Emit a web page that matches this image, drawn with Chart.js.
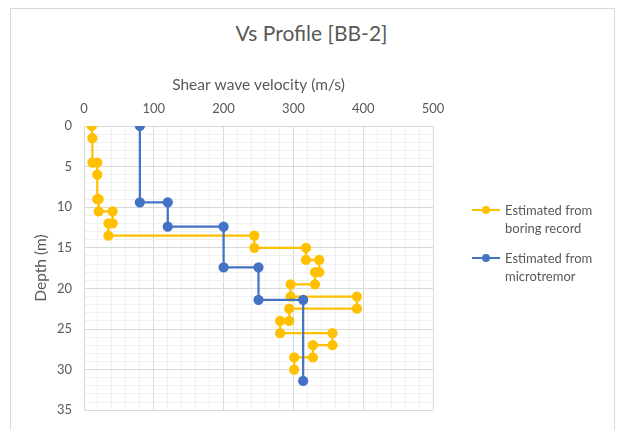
<!DOCTYPE html>
<html>
<head>
<meta charset="utf-8">
<script src="https://cdn.jsdelivr.net/npm/chart.js@4"></script>
<style>
  html, body { margin: 0; padding: 0; background: #fff; }
  body { width: 623px; height: 430px; position: relative; overflow: hidden; font-family: Lato, "Open Sans", sans-serif; color: #595959; }
  #frame { position: absolute; left: 10px; top: 8px; width: 603px; height: 440px; border: 1px solid #d9d9d9; }
  #title { position: absolute; left: 0; width: 623px; top: 20px; text-align: center; font-size: 21px; }
  #wrap { position: absolute; left: 0; top: 0; width: 623px; height: 430px; }
  .legend { position: absolute; left: 472px; font-size: 13px; line-height: 18px; }
  .legend .key { position: absolute; left: 0; top: 8px; width: 28px; height: 2px; }
  .legend .key i { position: absolute; left: 10px; top: -3px; width: 8px; height: 8px; border-radius: 50%; }
  .legend span { display: block; margin-left: 33px; white-space: nowrap; }
</style>
</head>
<body>
<div id="frame"></div>
<div id="title">Vs Profile [BB-2]</div>
<div id="wrap"><canvas id="chart" width="623" height="430"></canvas></div>
<div class="legend" style="top:201px">
  <div class="key" style="background:#ffc000"><i style="background:#ffc000"></i></div>
  <span>Estimated from</span><span>boring record</span>
</div>
<div class="legend" style="top:249px">
  <div class="key" style="background:#4472c4"><i style="background:#4472c4"></i></div>
  <span>Estimated from</span><span>microtremor</span>
</div>
<script>
// boring record profile (Vs in m/s, depth in m)
const boringVs = [11, 12, 12, 19, 19, 19, 21, 21, 41, 41, 35, 35, 244, 244, 318, 318, 337, 337,
                  331, 331, 296, 296, 391, 391, 294, 294, 281, 281, 356, 356, 328, 328, 301, 301];
const boringDepth = [0, 1.5, 4.5, 4.5, 6, 9, 9, 10.5, 10.5, 12, 12, 13.5, 13.5, 15, 15, 16.5, 16.5, 18,
                     18, 19.5, 19.5, 21, 21, 22.5, 22.5, 24, 24, 25.5, 25.5, 27, 27, 28.5, 28.5, 30];

// microtremor profile
const tremorVs = [80, 80, 120, 120, 200, 200, 250, 250, 314, 314];
const tremorDepth = [0, 9.4, 9.4, 12.4, 12.4, 17.4, 17.4, 21.4, 21.4, 31.4];

const xMax = 500, xMajor = 100, xMinor = 20;
const yMax = 35, yMajor = 5, yMinor = 1;

function pairs(xs, ys) { return xs.map((x, i) => ({ x, y: ys[i] })); }

const gridColor = major => ctx => (ctx.tick && ctx.tick.value % major === 0) ? '#d9d9d9' : '#f0f0f0';
const font = { family: 'Lato, "Open Sans", sans-serif', size: 13 };
const titleFont = { family: 'Lato, "Open Sans", sans-serif', size: 15.5 };

new Chart(document.getElementById('chart'), {
  type: 'scatter',
  data: {
    datasets: [
      { label: 'Estimated from boring record', data: pairs(boringVs, boringDepth), order: 1,
        showLine: true, borderColor: '#ffc000', backgroundColor: '#ffc000', borderWidth: 2.25,
        pointRadius: 4, pointHoverRadius: 4 },
      { label: 'Estimated from microtremor', data: pairs(tremorVs, tremorDepth), order: 0,
        showLine: true, borderColor: '#4472c4', backgroundColor: '#4472c4', borderWidth: 2.25,
        pointRadius: 4, pointHoverRadius: 4 }
    ]
  },
  options: {
    responsive: false,
    animation: false,
    layout: { padding: { left: 28, right: 190, top: 74, bottom: 13 } },
    plugins: { legend: { display: false }, tooltip: { enabled: false } },
    scales: {
      x: {
        type: 'linear', position: 'top', min: 0, max: xMax,
        afterFit: s => { s.height = 52; },
        title: { display: true, text: 'Shear wave velocity (m/s)', color: '#595959',
                 font: titleFont, padding: { top: 2, bottom: 0 } },
        ticks: { stepSize: xMinor, autoSkip: false, maxRotation: 0, color: '#595959', font, padding: 9,
                 callback: v => v % xMajor === 0 ? v : '' },
        grid: { color: gridColor(xMajor), drawTicks: false },
        border: { color: '#d9d9d9' }
      },
      y: {
        type: 'linear', reverse: true, min: 0, max: yMax,
        afterFit: s => { s.width = 56; },
        title: { display: true, text: 'Depth (m)', color: '#595959',
                 font: titleFont, padding: { top: 4, bottom: 0 } },
        ticks: { stepSize: yMinor, autoSkip: false, color: '#595959', font, padding: 12,
                 callback: v => v % yMajor === 0 ? v : '' },
        grid: { color: gridColor(yMajor), drawTicks: false },
        border: { color: '#d9d9d9' }
      }
    }
  }
});
</script>
</body>
</html>
